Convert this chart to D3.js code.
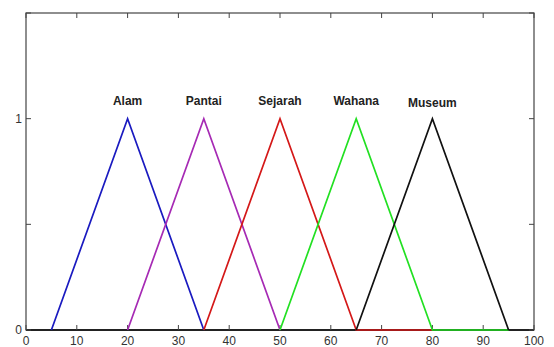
<!DOCTYPE html>
<html><head><meta charset="utf-8">
<script src="https://cdn.jsdelivr.net/npm/d3@7"></script>
<style>body{margin:0;background:#fff;}svg{display:block;}</style>
</head><body>
<svg id="c" width="554" height="347"></svg>
<script>
const names = ["Alam","Pantai","Sejarah","Wahana","Museum"];
const colors = ["#1a1ac0","#a62ab4","#d41818","#22e022","#111111"];
const xs = [[5,20,35],[20,35,50],[35,50,65,80],[50,65,80,95],[65,80,95]];
const ys = [[0,1,0],[0,1,0],[0,1,0,0],[0,1,0,0],[0,1,0]];
const xTicks = [0,10,20,30,40,50,60,70,80,90,100];
const yTicks = [0,0.5,1,1.5];
const yLabels = {0:"0",1:"1"};

const svg = d3.select("#c");
const L=26, R=534, T=13, B=330;
const x = d3.scaleLinear().domain([0,100]).range([L,R]);
const y = d3.scaleLinear().domain([0,1.5]).range([B,T]);

// box
svg.append("rect").attr("x",L).attr("y",T).attr("width",R-L).attr("height",B-T)
  .attr("fill","none").attr("stroke","#444").attr("stroke-width",1.2);
svg.append("line").attr("x1",L).attr("x2",R).attr("y1",B).attr("y2",B).attr("stroke","#222").attr("stroke-width",2);

const tk=5;
xTicks.forEach(t=>{
  svg.append("line").attr("x1",x(t)).attr("x2",x(t)).attr("y1",B).attr("y2",B-tk).attr("stroke","#444");
  svg.append("line").attr("x1",x(t)).attr("x2",x(t)).attr("y1",T).attr("y2",T+tk).attr("stroke","#444");
  svg.append("text").attr("x",x(t)).attr("y",345).attr("text-anchor","middle")
    .attr("font-family","Liberation Sans, Arial, sans-serif").attr("font-size",12).attr("fill","#333").text(t);
});
yTicks.forEach(t=>{
  svg.append("line").attr("x1",L).attr("x2",L+tk).attr("y1",y(t)).attr("y2",y(t)).attr("stroke","#444");
  svg.append("line").attr("x1",R).attr("x2",R-tk).attr("y1",y(t)).attr("y2",y(t)).attr("stroke","#444");
  if(yLabels[t]!==undefined)
    svg.append("text").attr("x",L-4).attr("y",y(t)+4).attr("text-anchor","end")
      .attr("font-family","Liberation Sans, Arial, sans-serif").attr("font-size",12).attr("fill","#333").text(yLabels[t]);
});

const line = d3.line().x(d=>x(d[0])).y(d=>y(d[1]));
names.forEach((n,i)=>{
  const pts = xs[i].map((v,j)=>[v,ys[i][j]]);
  svg.append("path").attr("d",line(pts)).attr("fill","none")
    .attr("stroke",colors[i]).attr("stroke-width",1.7).attr("stroke-linejoin","miter");
});

names.forEach((n,i)=>{
  svg.append("text").attr("x",x(xs[i][1])).attr("y",y(1)-14 + (i===4?2:0)).attr("text-anchor","middle")
    .attr("font-family","Liberation Sans, Arial, sans-serif").attr("font-size",12).attr("font-weight","bold")
    .attr("fill","#222").text(n);
});
</script>
</body></html>
